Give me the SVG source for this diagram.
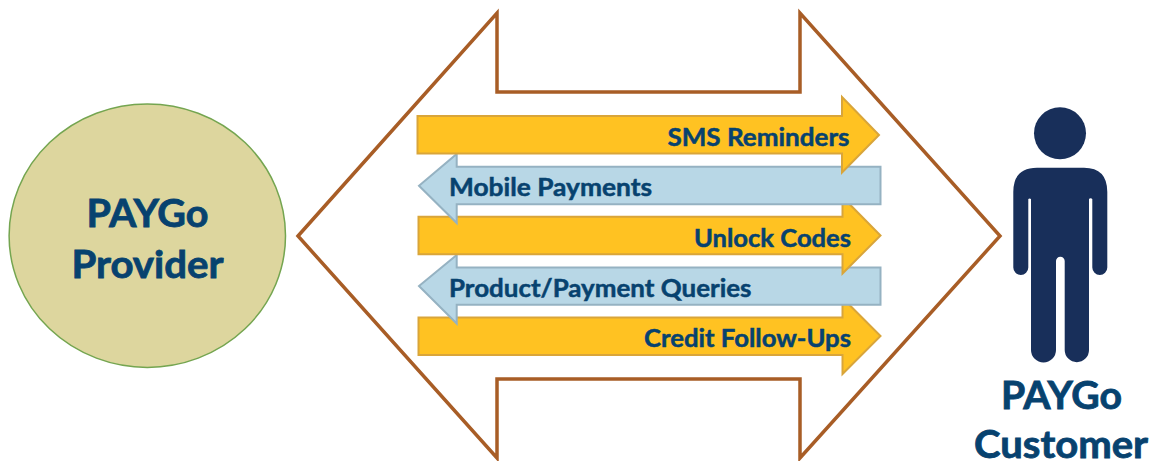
<svg xmlns="http://www.w3.org/2000/svg" width="1155" height="461" viewBox="0 0 1155 461">
<style>
text{font-family:"Lato","Carlito","Open Sans",sans-serif;font-weight:700;fill:#07426F;stroke:#07426F}
.big{font-size:38px;stroke-width:.8px}
.small{font-size:25px;stroke-width:.5px}
.y{fill:#FFC222;stroke:#D9A53A;stroke-width:2}
.b{fill:#B8D7E6;stroke:#95B2C2;stroke-width:2}
</style>
<rect width="1155" height="461" fill="#fff"/>
<g id="provider">
<ellipse cx="147.3" cy="235.7" rx="138.2" ry="131.7" fill="#DDD69E" stroke="#74A550" stroke-width="1.5"/>
<text class="big" x="86.5" y="226.7" textLength="122" lengthAdjust="spacingAndGlyphs">PAYGo</text>
<text class="big" x="71.5" y="278" textLength="152" lengthAdjust="spacingAndGlyphs">Provider</text>
</g>
<g id="connectors">
<polygon id="exchange" points="298,236 497,13 497,92 800,92 800,13 1000,236 800,458 800,379 497,379 497,458" fill="none" stroke="#A85D26" stroke-width="3.5"/>
<g id="credit"><polygon class="y" points="418.5,317.5 842.5,317.5 842.5,298 880.5,336 842.5,374 842.5,355 418.5,355"/><text class="small" x="644" y="346.7" textLength="207" lengthAdjust="spacingAndGlyphs">Credit Follow-Ups</text></g>
<g id="queries"><polygon class="b" points="880.5,267.5 456.7,267.5 456.7,255 419,286 456.7,323.5 456.7,304.7 880.5,304.7"/><text class="small" x="449" y="296.7" textLength="302.5" lengthAdjust="spacingAndGlyphs">Product/Payment Queries</text></g>
<g id="unlock"><polygon class="y" points="418.5,216.7 842.5,216.7 842.5,197 880.5,235.5 842.5,273.5 842.5,254.3 418.5,254.3"/><text class="small" x="694" y="246.7" textLength="157" lengthAdjust="spacingAndGlyphs">Unlock Codes</text></g>
<g id="payments"><polygon class="b" points="880.5,166.7 456.7,166.7 456.7,154 419,185.7 456.7,223 456.7,204.3 880.5,204.3"/><text class="small" x="449" y="196" textLength="203" lengthAdjust="spacingAndGlyphs">Mobile Payments</text></g>
<g id="sms"><polygon class="y" points="417.5,116 842,116 842,97 879,135 842,172.5 842,153.5 417.5,153.5"/><text class="small" x="667.5" y="146" textLength="182" lengthAdjust="spacingAndGlyphs">SMS Reminders</text></g>
</g>
<g id="customer">
<circle cx="1060" cy="133.3" r="26" fill="#182F5A"/>
<path fill="#182F5A" d="M1037 167.7H1084Q1107.3 167.7 1107.3 192V267.5A7.5 7.5 0 0 1 1092.3 267.5V199A2 2 0 0 0 1089 199V350A11.7 11.7 0 0 1 1064.7 350V261A4.3 4.3 0 0 0 1056 261V350A11.7 11.7 0 0 1 1031 350V199A2 2 0 0 0 1028.3 199V267.5A7.5 7.5 0 0 1 1013.3 267.5V192Q1013.3 167.7 1037 167.7Z"/>
<text class="big" x="1001" y="409.3" textLength="121" lengthAdjust="spacingAndGlyphs">PAYGo</text>
<text class="big" x="974" y="458" textLength="174" lengthAdjust="spacingAndGlyphs">Customer</text>
</g>
</svg>
